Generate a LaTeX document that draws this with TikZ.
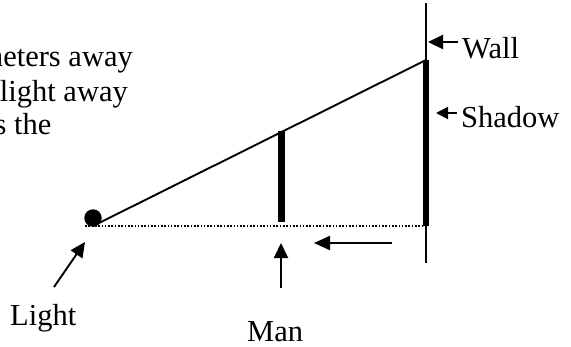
\documentclass[tikz,border=0pt]{standalone}
\usepackage{fontspec}
\setmainfont{Liberation Serif}
\usetikzlibrary{arrows.meta}
\begin{document}
\begin{tikzpicture}[x=1pt,y=-1pt,
  lbl/.style={inner sep=0pt, font=\fontsize{30.5}{36}\selectfont},
  ptr/.style={line width=1.9pt, -{Triangle[length=15pt,width=14pt]}},
  ray/.style={line width=1.9pt},
  wallline/.style={line width=2.6pt},
  thickbar/.style={line width=6.5pt},
  ground/.style={line width=1.5pt, dash pattern=on 1.6pt off 1.7pt}]
\useasboundingbox (0,0) rectangle (571,346);
\begin{scope}
\clip (0,0) rectangle (571,346);
\node[lbl, anchor=base east] (t1) at (133,66.7) {meters away};
\node[lbl, anchor=base east] (t2) at (128,101.7) {tlight away};
\node[lbl, anchor=base east] (t3) at (51.7,134) {s the};
\end{scope}
% wall and shadow
\coordinate (wtop) at (426,3);
\coordinate (wbot) at (426,263);
\coordinate (stop) at (426,60);
\coordinate (sbot) at (426,226);
\draw[wallline] (wtop) -- (wbot);
\draw[thickbar] (stop) -- (sbot);
% man
\coordinate (mtop) at (281,131);
\coordinate (mbot) at (281,222);
\draw[thickbar, line width=7pt] (mtop) -- (mbot);
% light
\node[circle, fill=black, inner sep=0pt, minimum size=17.5pt] (lamp) at (93,218) {};
\coordinate (src) at (93,226);
\coordinate (gstart) at (85,226);
\draw[ray] (src) -- (stop);
\draw[ground] (gstart) -- (sbot);
% labels
\node[lbl, anchor=base west] (wall) at (462,58) {Wall};
\node[lbl, anchor=base west] (shadow) at (461,127) {Shadow};
\node[lbl, anchor=base west] (light) at (10,325) {Light};
\node[lbl, anchor=base west] (man) at (247,341) {Man};
% pointers
\coordinate (wallTail) at (458,42);
\coordinate (wallTip) at (428,42);
\coordinate (shTail) at (457,113);
\coordinate (shTip) at (436,113);
\coordinate (lTail) at (54,287);
\coordinate (lTip) at (85,242);
\coordinate (mTail) at (281,288);
\coordinate (mTip) at (281,243);
\coordinate (dTail) at (392,243);
\coordinate (dTip) at (314,243);
\draw[ptr] (wallTail) -- (wallTip);
\draw[ptr, -{Triangle[length=12pt,width=12pt]}] (shTail) -- (shTip);
\draw[ptr] (lTail) -- (lTip);
\draw[ptr] (mTail) -- (mTip);
\draw[ptr, -{Triangle[length=16pt,width=14pt]}] (dTail) -- (dTip);
\end{tikzpicture}
\end{document}
